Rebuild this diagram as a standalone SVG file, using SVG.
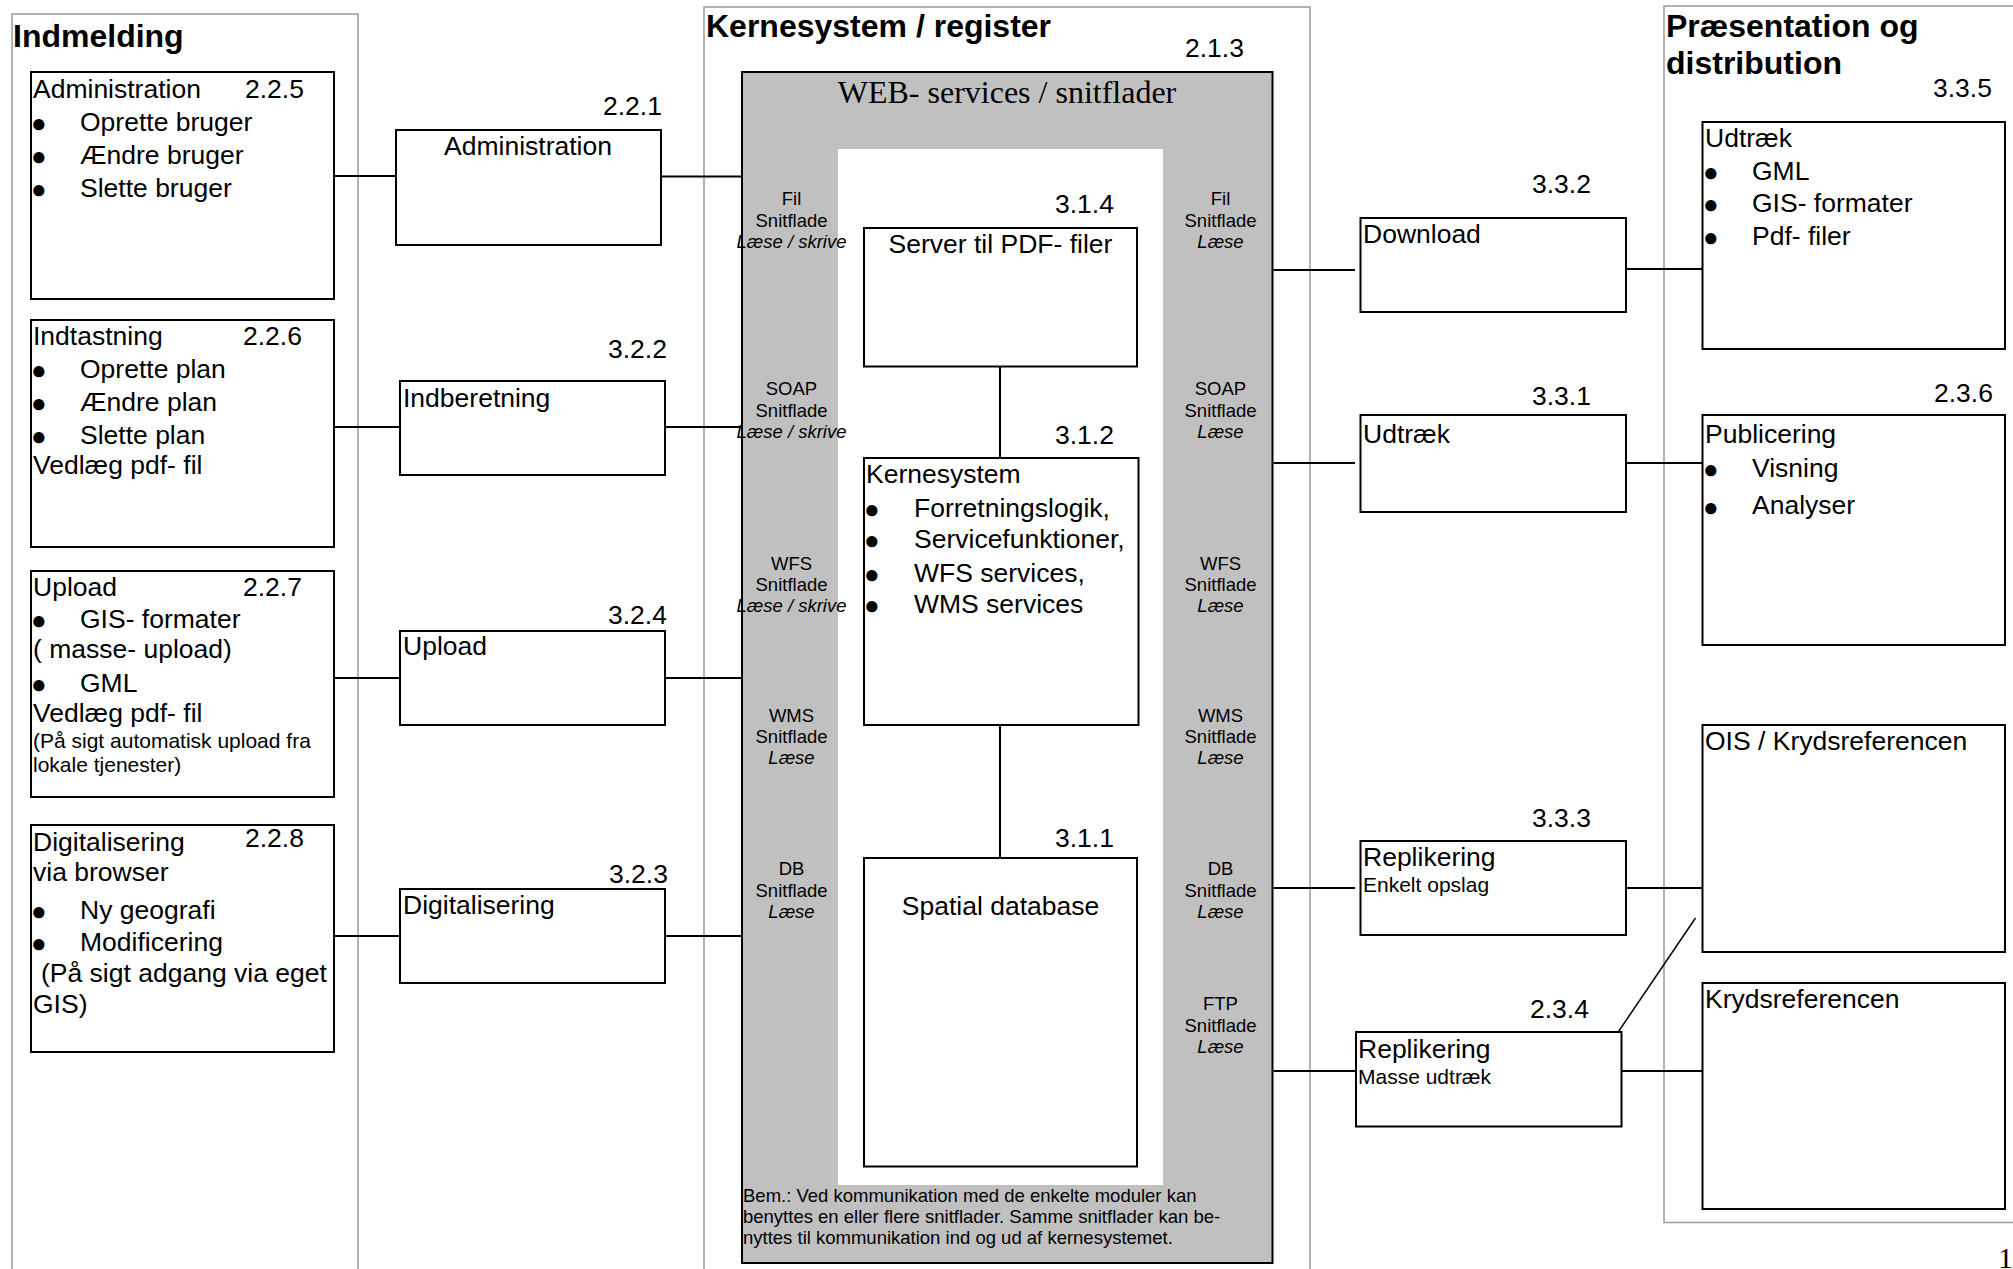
<svg xmlns="http://www.w3.org/2000/svg" width="2013" height="1269" viewBox="0 0 2013 1269">
<style>
.t{font-family:"Liberation Sans",Arial,sans-serif;font-size:26.5px;fill:#000}
.h{font-weight:bold;font-size:32px}
.s{font-size:18.5px}
.n{font-size:21px}
.i{font-style:italic}
.m{text-anchor:middle}
.bl{font-size:26px}
.serif{font-family:"Liberation Serif","Times New Roman",serif}
.box{fill:#fff;stroke:#000;stroke-width:2}
.frame{fill:none;stroke:#a0a0a0;stroke-width:1.6}
.c{stroke:#000;stroke-width:2;fill:none}
</style>
<rect width="2013" height="1269" fill="#fff"/>

<!-- column frames -->
<g id="col-indmelding">
<rect class="frame" x="12" y="14" width="346" height="1290"/>
<text class="t h" x="13" y="47">Indmelding</text>
</g>
<g id="col-kernesystem">
<rect class="frame" x="704" y="7" width="606" height="1300"/>
<text class="t h" x="706" y="37">Kernesystem / register</text>
<text class="t" x="1185" y="57">2.1.3</text>
</g>
<g id="col-praesentation">
<rect class="frame" x="1664" y="6" width="420" height="1216.5"/>
<text class="t h" x="1666" y="37">Præsentation og</text>
<text class="t h" x="1666" y="74">distribution</text>
</g>

<!-- web services block -->
<g id="n213">
<rect x="742" y="72" width="530.5" height="1191" fill="#c0c0c0" stroke="#000" stroke-width="2"/>
<rect x="838" y="149" width="325" height="1036" fill="#fff"/>
<text class="serif m" x="1007" y="103" font-size="32">WEB- services / snitflader</text>
<g class="t s m">
<text x="791.5" y="205">Fil</text><text x="791.5" y="226.5">Snitflade</text><text class="i" x="791.5" y="247.5">Læse / skrive</text>
<text x="791.5" y="395">SOAP</text><text x="791.5" y="416.5">Snitflade</text><text class="i" x="791.5" y="438">Læse / skrive</text>
<text x="791.5" y="570">WFS</text><text x="791.5" y="591">Snitflade</text><text class="i" x="791.5" y="612">Læse / skrive</text>
<text x="791.5" y="721.5">WMS</text><text x="791.5" y="742.5">Snitflade</text><text class="i" x="791.5" y="764">Læse</text>
<text x="791.5" y="875">DB</text><text x="791.5" y="896.5">Snitflade</text><text class="i" x="791.5" y="918">Læse</text>
<text x="1220.5" y="205">Fil</text><text x="1220.5" y="226.5">Snitflade</text><text class="i" x="1220.5" y="247.5">Læse</text>
<text x="1220.5" y="395">SOAP</text><text x="1220.5" y="416.5">Snitflade</text><text class="i" x="1220.5" y="438">Læse</text>
<text x="1220.5" y="570">WFS</text><text x="1220.5" y="591">Snitflade</text><text class="i" x="1220.5" y="612">Læse</text>
<text x="1220.5" y="721.5">WMS</text><text x="1220.5" y="742.5">Snitflade</text><text class="i" x="1220.5" y="764">Læse</text>
<text x="1220.5" y="875">DB</text><text x="1220.5" y="896.5">Snitflade</text><text class="i" x="1220.5" y="918">Læse</text>
<text x="1220.5" y="1010">FTP</text><text x="1220.5" y="1031.5">Snitflade</text><text class="i" x="1220.5" y="1052.5">Læse</text>
</g>
<g class="t s">
<text x="743" y="1201.5">Bem.: Ved kommunikation med de enkelte moduler kan</text>
<text x="743" y="1223">benyttes en eller flere snitflader. Samme snitflader kan be-</text>
<text x="743" y="1244">nyttes til kommunikation ind og ud af kernesystemet.</text>
</g>
</g>

<!-- connectors -->
<g id="connectors" class="c">
<line x1="334" y1="176" x2="396" y2="176"/>
<line x1="661" y1="176.5" x2="741" y2="176.5"/>
<line x1="334" y1="427" x2="400" y2="427"/>
<line x1="665" y1="427" x2="741" y2="427"/>
<line x1="334" y1="678" x2="400" y2="678"/>
<line x1="665" y1="678" x2="741" y2="678"/>
<line x1="334" y1="936" x2="400" y2="936"/>
<line x1="665" y1="936" x2="741" y2="936"/>
<line x1="1000" y1="366.5" x2="1000" y2="458"/>
<line x1="1000" y1="725" x2="1000" y2="858"/>
<line x1="1273.5" y1="270" x2="1355" y2="270"/>
<line x1="1626" y1="269" x2="1702.5" y2="269"/>
<line x1="1273.5" y1="463" x2="1355" y2="463"/>
<line x1="1626" y1="463" x2="1702.5" y2="463"/>
<line x1="1273.5" y1="888" x2="1355" y2="888"/>
<line x1="1626" y1="888" x2="1702.5" y2="888"/>
<line x1="1273.5" y1="1071" x2="1356" y2="1071"/>
<line x1="1621.5" y1="1071" x2="1702.5" y2="1071"/>
<line x1="1606" y1="1050" x2="1695.5" y2="918" stroke-width="1.5"/>
</g>

<!-- Indmelding nodes -->
<g id="n225">
<rect class="box" x="31" y="72" width="303" height="227"/>
<text class="t" x="33" y="98">Administration</text><text class="t" x="245" y="98">2.2.5</text>
<text class="t bl" x="31" y="132">●</text><text class="t" x="80" y="131">Oprette bruger</text>
<text class="t bl" x="31" y="165">●</text><text class="t" x="80" y="164">Ændre bruger</text>
<text class="t bl" x="31" y="198">●</text><text class="t" x="80" y="197">Slette bruger</text>
</g>
<g id="n226">
<rect class="box" x="31" y="320" width="303" height="227"/>
<text class="t" x="33" y="345">Indtastning</text><text class="t" x="243" y="345">2.2.6</text>
<text class="t bl" x="31" y="379">●</text><text class="t" x="80" y="378">Oprette plan</text>
<text class="t bl" x="31" y="412">●</text><text class="t" x="80" y="411">Ændre plan</text>
<text class="t bl" x="31" y="445">●</text><text class="t" x="80" y="444">Slette plan</text>
<text class="t" x="33" y="474">Vedlæg pdf- fil</text>
</g>
<g id="n227">
<rect class="box" x="31" y="571" width="303" height="226"/>
<text class="t" x="33" y="596">Upload</text><text class="t" x="243" y="596">2.2.7</text>
<text class="t bl" x="31" y="629">●</text><text class="t" x="80" y="628">GIS- formater</text>
<text class="t" x="33" y="658">( masse- upload)</text>
<text class="t bl" x="31" y="693">●</text><text class="t" x="80" y="692">GML</text>
<text class="t" x="33" y="722">Vedlæg pdf- fil</text>
<text class="t n" x="33" y="748">(På sigt automatisk upload fra</text>
<text class="t n" x="33" y="772">lokale tjenester)</text>
</g>
<g id="n228">
<rect class="box" x="31" y="825" width="303" height="227"/>
<text class="t" x="33" y="851">Digitalisering</text><text class="t" x="245" y="847">2.2.8</text>
<text class="t" x="33" y="881">via browser</text>
<text class="t bl" x="31" y="920">●</text><text class="t" x="80" y="919">Ny geografi</text>
<text class="t bl" x="31" y="952">●</text><text class="t" x="80" y="951">Modificering</text>
<text class="t" x="41" y="982">(På sigt adgang via eget</text>
<text class="t" x="33" y="1013">GIS)</text>
</g>

<!-- second column nodes -->
<g id="n221">
<rect class="box" x="396" y="130" width="265" height="115"/>
<text class="t" x="603" y="115">2.2.1</text>
<text class="t m" x="528" y="155">Administration</text>
</g>
<g id="n322">
<rect class="box" x="400" y="381" width="265" height="94"/>
<text class="t" x="608" y="358">3.2.2</text>
<text class="t" x="403" y="407">Indberetning</text>
</g>
<g id="n324">
<rect class="box" x="400" y="631" width="265" height="94"/>
<text class="t" x="608" y="624">3.2.4</text>
<text class="t" x="403" y="655">Upload</text>
</g>
<g id="n323">
<rect class="box" x="400" y="889" width="265" height="94"/>
<text class="t" x="609" y="883">3.2.3</text>
<text class="t" x="403" y="914">Digitalisering</text>
</g>

<!-- core nodes -->
<g id="n314">
<rect class="box" x="864" y="228" width="273" height="138.5"/>
<text class="t" x="1055" y="213">3.1.4</text>
<text class="t m" x="1000.5" y="253">Server til PDF- filer</text>
</g>
<g id="n312">
<rect class="box" x="864" y="458" width="274.5" height="267"/>
<text class="t" x="1055" y="444">3.1.2</text>
<text class="t" x="866" y="483">Kernesystem</text>
<text class="t bl" x="864" y="518">●</text><text class="t" x="914" y="517">Forretningslogik,</text>
<text class="t bl" x="864" y="549">●</text><text class="t" x="914" y="548">Servicefunktioner,</text>
<text class="t bl" x="864" y="583">●</text><text class="t" x="914" y="582">WFS services,</text>
<text class="t bl" x="864" y="614">●</text><text class="t" x="914" y="613">WMS services</text>
</g>
<g id="n311">
<rect class="box" x="864" y="858" width="273" height="308.5"/>
<text class="t" x="1055" y="847">3.1.1</text>
<text class="t m" x="1000.5" y="915">Spatial database</text>
</g>

<!-- distribution nodes -->
<g id="n332">
<rect class="box" x="1360.5" y="218" width="265.5" height="94"/>
<text class="t" x="1532" y="193">3.3.2</text>
<text class="t" x="1363" y="243">Download</text>
</g>
<g id="n331">
<rect class="box" x="1360.5" y="415" width="265.5" height="97"/>
<text class="t" x="1532" y="405">3.3.1</text>
<text class="t" x="1363" y="443">Udtræk</text>
</g>
<g id="n333">
<rect class="box" x="1360.5" y="841" width="265.5" height="94"/>
<text class="t" x="1532" y="827">3.3.3</text>
<text class="t" x="1363" y="866">Replikering</text>
<text class="t n" x="1363" y="892">Enkelt opslag</text>
</g>
<g id="n234">
<rect class="box" x="1356" y="1032" width="265.5" height="94.5"/>
<text class="t" x="1530" y="1018">2.3.4</text>
<text class="t" x="1358" y="1058">Replikering</text>
<text class="t n" x="1358" y="1084">Masse udtræk</text>
</g>

<!-- presentation nodes -->
<g id="n335">
<rect class="box" x="1702.5" y="122" width="302.5" height="227"/>
<text class="t" x="1933" y="97">3.3.5</text>
<text class="t" x="1705" y="147">Udtræk</text>
<text class="t bl" x="1703" y="181">●</text><text class="t" x="1752" y="180">GML</text>
<text class="t bl" x="1703" y="213">●</text><text class="t" x="1752" y="212">GIS- formater</text>
<text class="t bl" x="1703" y="246">●</text><text class="t" x="1752" y="245">Pdf- filer</text>
</g>
<g id="n236">
<rect class="box" x="1702.5" y="415" width="302.5" height="230"/>
<text class="t" x="1934" y="402">2.3.6</text>
<text class="t" x="1705" y="443">Publicering</text>
<text class="t bl" x="1703" y="478">●</text><text class="t" x="1752" y="477">Visning</text>
<text class="t bl" x="1703" y="516">●</text><text class="t" x="1752" y="514">Analyser</text>
</g>
<g id="n-ois">
<rect class="box" x="1702.5" y="725" width="302.5" height="227"/>
<text class="t" x="1705" y="750">OIS / Krydsreferencen</text>
</g>
<g id="n-kryds">
<rect class="box" x="1702.5" y="983" width="302.5" height="226"/>
<text class="t" x="1705" y="1008">Krydsreferencen</text>
</g>

<text class="serif" x="1998" y="1268" font-size="30">1</text>
</svg>
